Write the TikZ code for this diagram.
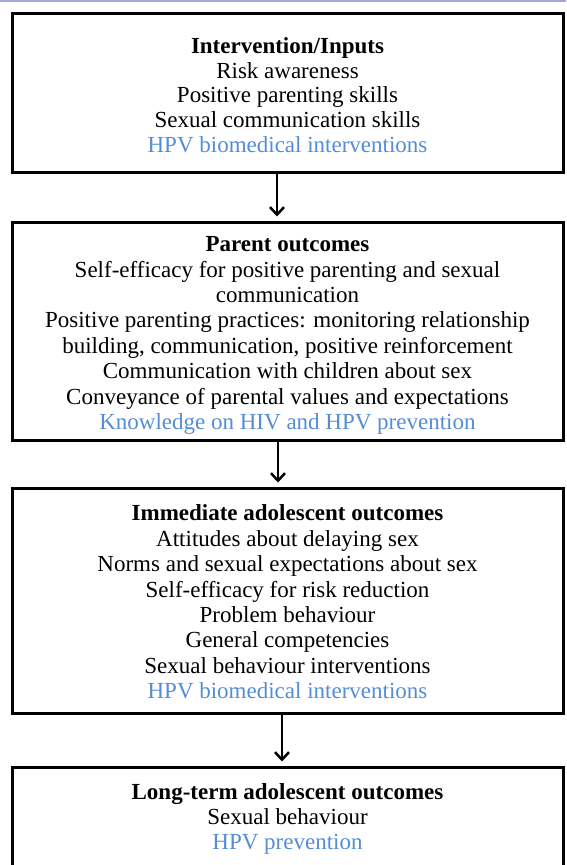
\documentclass[tikz,border=0pt]{standalone}
\usepackage{fontspec}
\setmainfont{Liberation Serif}
\usetikzlibrary{arrows.meta}
\definecolor{hpvblue}{HTML}{548DD4}
\definecolor{topline}{HTML}{A3A9D3}
\begin{document}
\begin{tikzpicture}[x=1pt,y=-1pt,
  frame/.style={draw, line width=3pt, minimum width=551pt, inner sep=0pt},
  txt/.style={align=center, inner sep=0pt, font=\fontsize{23}{25.4}\selectfont},
  arr/.style={line width=2.5pt, -{Straight Barb[length=7.5pt,width=14pt]}, shorten >=4pt},
  hl/.style={color=hpvblue}]
\useasboundingbox (0,0) rectangle (566,865);
\fill[topline] (0,0) rectangle (566,2);
\node[frame, minimum height=159pt] (b1) at (287.5,92.5) {};
\node[frame, minimum height=218pt] (b2) at (287.5,331) {};
\node[frame, minimum height=225pt] (b3) at (287.5,600.5) {};
\node[frame, minimum height=100pt] (b4) at (287.5,817) {};
\node[txt, font=\fontsize{23}{24.6}\selectfont] (t1) at (287.5,95) {\textbf{Intervention/Inputs}\\
Risk awareness\\
Positive parenting skills\\
Sexual communication skills\\
\textcolor{hpvblue}{HPV biomedical interventions}};
\node[txt] (t2) at (287.5,335.5) {\textbf{Parent outcomes}\\
Self-efficacy for positive parenting and sexual\\
communication\\
Positive parenting practices: monitoring relationship\\
building, communication, positive reinforcement\\
Communication with children about sex\\
Conveyance of parental values and expectations\\
\textcolor{hpvblue}{Knowledge on HIV and HPV prevention}};
\node[txt] (t3) at (287.5,602) {\textbf{Immediate adolescent outcomes}\\
Attitudes about delaying sex\\
Norms and sexual expectations about sex\\
Self-efficacy for risk reduction\\
Problem behaviour\\
General competencies\\
Sexual behaviour interventions\\
\textcolor{hpvblue}{HPV biomedical interventions}};
\node[txt] (t4) at (287.5,819) {\textbf{Long-term adolescent outcomes}\\
Sexual behaviour\\
\textcolor{hpvblue}{HPV prevention}};
\draw[arr] ([xshift=-10.5pt]b1.south) -- ([xshift=-10.5pt]b2.north);
\draw[arr] ([xshift=-9.5pt]b2.south) -- ([xshift=-9.5pt]b3.north);
\draw[arr] ([xshift=-5.5pt]b3.south) -- ([xshift=-5.5pt]b4.north);
\end{tikzpicture}
\end{document}
